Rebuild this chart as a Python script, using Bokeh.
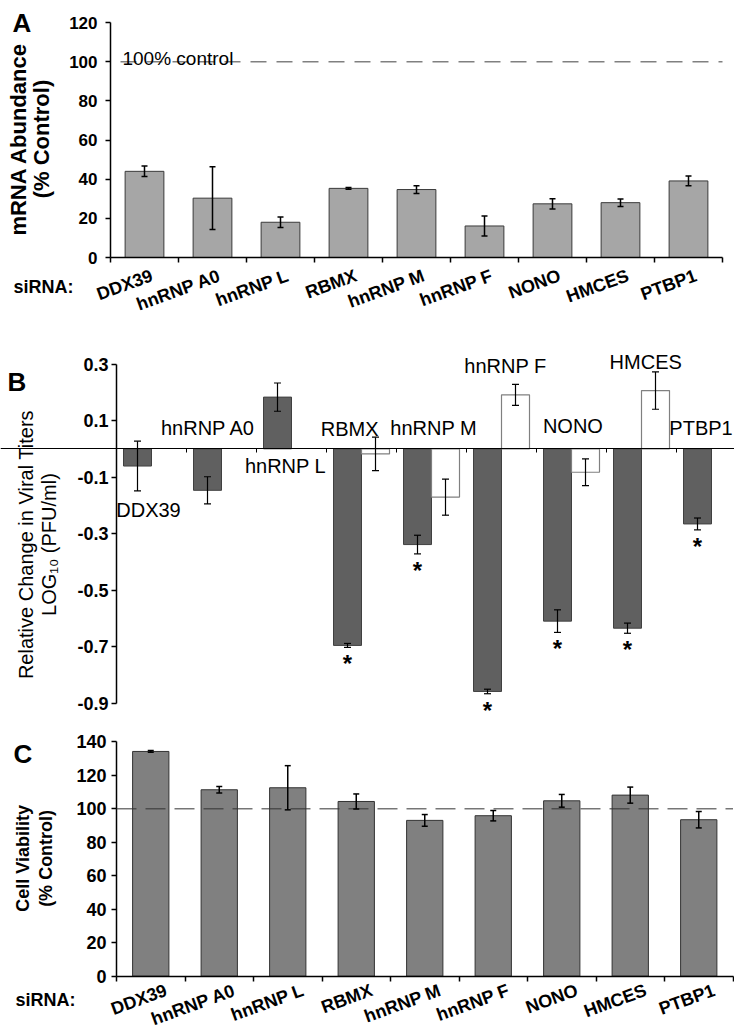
import math
from bokeh.plotting import figure
from bokeh.models import Range1d, FixedTicker, Label, Whisker, TeeHead, ColumnDataSource
from bokeh.layouts import column
from bokeh.embed import file_html
from bokeh.resources import INLINE

FONT = "Liberation Sans"

# ---------------- data ----------------
genes = ["DDX39", "hnRNP A0", "hnRNP L", "RBMX", "hnRNP M",
         "hnRNP F", "NONO", "HMCES", "PTBP1"]

# Panel A: mRNA abundance (% control)
mrna = [44.0, 30.3, 18.0, 35.3, 34.7, 16.1, 27.4, 28.0, 39.1]
mrna_err = [2.7, 16.0, 2.7, 0.5, 2.0, 5.1, 2.6, 1.9, 2.5]

# Panel B: relative change in viral titers, log10 (PFU/ml)
titer_dark = [-0.061, -0.147, 0.183, -0.696, -0.339, -0.859, -0.610, -0.635, -0.266]
titer_dark_err = [0.088, 0.048, 0.050, 0.007, 0.033, 0.008, 0.040, 0.018, 0.021]
titer_dark_sig = [False, False, False, True, True, True, True, True, True]
white_genes = ["RBMX", "hnRNP M", "hnRNP F", "NONO", "HMCES"]
titer_white = [-0.018, -0.171, 0.191, -0.083, 0.206]
titer_white_err = [0.059, 0.064, 0.037, 0.047, 0.066]

# Panel C: cell viability (% control)
viability = [134.3, 111.4, 112.6, 104.4, 93.1, 95.9, 104.8, 108.2, 93.5]
viability_err = [0.5, 1.9, 13.2, 4.5, 3.5, 3.1, 3.8, 4.8, 4.9]

a_ticks = [0, 20, 40, 60, 80, 100, 120]
b_ticks = [-0.9, -0.7, -0.5, -0.3, -0.1, 0.1, 0.3]
b_tick_labels = ["-0.9", "-0.7", "-0.5", "-0.3", "-0.1", "0.1", "0.3"]
c_ticks = [0, 20, 40, 60, 80, 100, 120, 140]

# label anchors for panel B (data units)
b_label_x = [0.457, 1.31, 2.414, 3.33, 4.53, 5.557, 6.52, 7.56, 8.35]
b_label_y = [-0.218, 0.072, -0.062, 0.069, 0.072, 0.293, 0.079, 0.306, 0.073]

n = len(genes)
centers = [i + 0.5 for i in range(n)]
W = 734


def make_fig(height, x0_px, x_unit, y0_px, y_unit):
    """Frame covers the whole canvas; data x=0 at x0_px, y=0 at y0_px (from top)."""
    xr = Range1d(-x0_px / x_unit, (W - x0_px) / x_unit)
    yr = Range1d(-(height - y0_px) / y_unit, y0_px / y_unit)
    p = figure(width=W, height=height, x_range=xr, y_range=yr,
               min_border_left=0, min_border_right=0, min_border_top=0, min_border_bottom=0,
               output_backend="svg", toolbar_location=None)
    p.outline_line_color = None
    p.grid.visible = False
    p.background_fill_color = "white"
    p.border_fill_color = "white"
    p.yaxis[0].fixed_location = 0
    p.xaxis[0].fixed_location = 0
    return p


def style_y(p, ticks, size, standoff, overrides=None):
    ax = p.yaxis[0]
    ax.bounds = (min(ticks), max(ticks))
    ax.ticker = FixedTicker(ticks=ticks)
    if overrides:
        ax.major_label_overrides = overrides
    ax.major_label_text_font = FONT
    ax.major_label_text_font_style = "bold"
    ax.major_label_text_font_size = size
    ax.major_label_text_color = "black"
    ax.axis_line_color = "black"
    ax.axis_line_width = 1.5
    ax.major_tick_line_color = "black"
    ax.major_tick_line_width = 1.5
    ax.major_tick_out = 5
    ax.major_tick_in = 0
    ax.minor_tick_line_color = None
    ax.major_label_standoff = standoff


def lab(p, x, y, text, size, bold=False, align="left", baseline="middle", angle=0.0,
        yo=0):
    p.add_layout(Label(x=x, y=y, text=text, text_font=FONT, text_font_size=size,
                       text_font_style="bold" if bold else "normal",
                       text_color="black", text_align=align, text_baseline=baseline,
                       angle=angle, y_offset=yo))


def style_x_cat(p, x_unit, y_unit, dx_px, dy_px):
    ax = p.xaxis[0]
    ax.bounds = (0, n)
    ax.ticker = FixedTicker(ticks=list(range(n + 1)))
    ax.major_label_overrides = {i: "" for i in range(n + 1)}
    ax.major_label_text_font_size = "1px"
    ax.axis_line_color = "black"
    ax.axis_line_width = 1.5
    ax.major_tick_line_color = "black"
    ax.major_tick_line_width = 1.5
    ax.major_tick_out = 5
    ax.major_tick_in = 0
    ax.minor_tick_line_color = None
    # rotated category labels: right end anchored just right of / below each centre
    for c, g in zip(centers, genes):
        lab(p, c + dx_px / x_unit, -dy_px / y_unit, g, "18px", bold=True,
            align="right", baseline="top", angle=0.35)


def whisker(p, xs, vals, errs, width, head):
    src = ColumnDataSource(dict(x=xs, upper=[v + e for v, e in zip(vals, errs)],
                                lower=[v - e for v, e in zip(vals, errs)]))
    w = Whisker(source=src, base="x", upper="upper", lower="lower",
                line_color="black", line_width=width, level="overlay",
                upper_head=TeeHead(size=head, line_color="black", line_width=width),
                lower_head=TeeHead(size=head, line_color="black", line_width=width))
    p.add_layout(w)


# ---------------- Panel A ----------------
A_XU, A_YU = 68.0, 235 / 120
pa = make_fig(316, 110, A_XU, 257, A_YU)
style_y(pa, a_ticks, "17px", 8)
style_x_cat(pa, A_XU, A_YU, 4, 8)
pa.vbar(x=centers, top=mrna, bottom=0, width=0.57, fill_color="#a6a6a6",
        line_color="#3a3a3a", line_width=1)
whisker(pa, centers, mrna, mrna_err, 1.5, 6)
pa.segment(x0=[10 / A_XU], x1=[n], y0=[100], y1=[100], line_color="#808080",
           line_width=1.5, line_dash="16 10")
lab(pa, 0.176, 101.5, "100% control", "19px", baseline="alphabetic")
lab(pa, -1.426, -15.1, "siRNA:", "18px", bold=True)
lab(pa, -1.36, 60.5, "mRNA Abundance", "22px", bold=True, align="center", angle=math.pi / 2)
lab(pa, -1.015, 60.5, "(% Control)", "22px", bold=True, align="center", angle=math.pi / 2)
lab(pa, -1.44, 120, "A", "26px", bold=True, baseline="alphabetic")

# ---------------- Panel B ----------------
B_XU, B_YU = 70.0, 282.5
pb = make_fig(410, 116, B_XU, 132.3, B_YU)
style_y(pb, b_ticks, "18px", 3, {t: s for t, s in zip(b_ticks, b_tick_labels)})
xb = pb.xaxis[0]
xb.ticker = FixedTicker(ticks=list(range(1, n + 1)))
xb.major_label_overrides = {i: "" for i in range(1, n + 1)}
xb.major_label_text_font_size = "1px"
xb.axis_line_color = "black"
xb.axis_line_width = 1.2
xb.major_tick_line_color = "black"
xb.major_tick_line_width = 1
xb.major_tick_out = 4
xb.major_tick_in = 0
xb.minor_tick_line_color = None
dark_x = [i + 0.3 for i in range(n)]
white_x = [genes.index(g) + 0.7 for g in white_genes]
pb.vbar(x=dark_x, top=titer_dark, bottom=0, width=0.4, fill_color="#606060",
        line_color="#404040", line_width=1)
pb.vbar(x=white_x, top=titer_white, bottom=0, width=0.4, fill_color="white",
        line_color="#808080", line_width=1.2)
whisker(pb, dark_x, titer_dark, titer_dark_err, 1.2, 7)
whisker(pb, white_x, titer_white, titer_white_err, 1.2, 7)
for x, v, e, s in zip(dark_x, titer_dark, titer_dark_err, titer_dark_sig):
    if s:
        lab(pb, x, v - e, "*", "24px", bold=True, align="center", baseline="top", yo=-3)
for x, y, g in zip(b_label_x, b_label_y, genes):
    lab(pb, x, y, g, "20px", align="center")
lab(pb, -1.3, -0.339, "Relative Change in Viral Titers", "20px", align="center",
    angle=math.pi / 2)
lab(pb, -0.971, -0.339, "LOG\u2081\u2080 (PFU/ml)", "20px", align="center",
    angle=math.pi / 2)
lab(pb, -1.557, 0.236, "B", "26px", bold=True, baseline="alphabetic")

# ---------------- Panel C ----------------
C_XU, C_YU = 68.5, 234.3 / 140
pc = make_fig(306, 116, C_XU, 249.7, C_YU)
style_y(pc, c_ticks, "18px", 5)
style_x_cat(pc, C_XU, C_YU, 12, 4)
pc.vbar(x=centers, top=viability, bottom=0, width=0.53, fill_color="#808080",
        line_color="#333333", line_width=1)
whisker(pc, centers, viability, viability_err, 1.5, 6)
pc.segment(x0=[0], x1=[n], y0=[100], y1=[100], line_color="#333333",
           line_width=1, line_dash="20 9", level="overlay")
lab(pc, -1.474, -14.5, "siRNA:", "18px", bold=True)
lab(pc, -1.37, 70.4, "Cell Viability", "18px", bold=True, align="center", angle=math.pi / 2)
lab(pc, -1.035, 70.4, "(% Control)", "18px", bold=True, align="center", angle=math.pi / 2)
lab(pc, -1.504, 132.5, "C", "26px", bold=True, baseline="alphabetic")

layout = column(pa, pb, pc)
open("out.html", "w").write(file_html(layout, INLINE))
